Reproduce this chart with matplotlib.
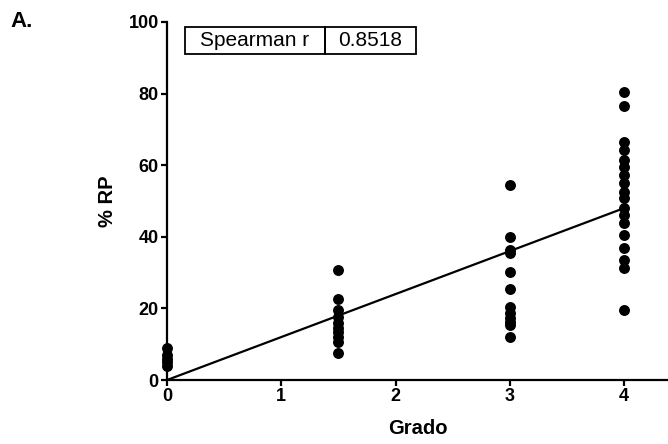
import matplotlib
matplotlib.use('Agg')
import matplotlib.pyplot as plt
from matplotlib.patches import Rectangle

plt.rcParams['font.family'] = ['Liberation Sans', 'DejaVu Sans']

# data
grado_0 = [9.0, 7.0, 6.0, 5.0, 4.0]
grado_15 = [30.7, 22.6, 19.5, 17.5, 16.0, 14.5, 13.4, 12.0, 10.6, 7.5]
grado_3 = [54.5, 40.0, 36.3, 35.5, 30.3, 25.4, 20.5, 18.7, 17.3, 16.2, 15.4, 12.1]
grado_4 = [80.5, 76.4, 66.6, 64.2, 61.5, 59.6, 57.3, 55.0, 52.6, 50.8, 48.0,
           46.0, 43.8, 40.5, 36.9, 33.5, 31.3, 19.6]
groups = {0: grado_0, 1.5: grado_15, 3: grado_3, 4: grado_4}

fit_x = [0, 4]
fit_y = [0, 48]

spearman_label = 'Spearman r'
spearman_value = '0.8518'

fig = plt.figure(figsize=(6.68, 4.44), dpi=100)
ax = fig.add_axes([0.25, 0.1441, 0.75, 0.8064])

for gx, vals in groups.items():
    ax.scatter([gx] * len(vals), vals, s=62, color='black', zorder=3,
               clip_on=False, linewidths=0)

ax.plot(fit_x, fit_y, color='black', lw=1.6, zorder=2)

ax.set_xlim(0, 4.385)
ax.set_ylim(0, 100)
ax.set_xticks([0, 1, 2, 3, 4])
ax.set_yticks([0, 20, 40, 60, 80, 100])
for s in ['top', 'right']:
    ax.spines[s].set_visible(False)
for s in ['left', 'bottom']:
    ax.spines[s].set_linewidth(1.6)
ax.tick_params(width=1.6, length=4.5, labelsize=13, pad=1.5)
for lab in ax.get_xticklabels() + ax.get_yticklabels():
    lab.set_fontweight('bold')

ax.set_xlabel('Grado', fontsize=14.5, fontweight='bold', labelpad=10)
ax.set_ylabel('% RP', fontsize=14.5, fontweight='bold', labelpad=8)

fig.text(0.015, 0.951, 'A.', fontsize=16, fontweight='bold', va='center')

# Spearman table box (pixel coordinates of figure)
W, H = 668, 444
cells = [(185, 325, spearman_label), (325, 416, spearman_value)]
for x0, x1, txt in cells:
    fig.patches.append(Rectangle((x0 / W, 1 - 54 / H), (x1 - x0) / W, 27 / H,
                                 transform=fig.transFigure, fill=False,
                                 edgecolor='black', lw=1.3))
    fig.text((x0 + x1) / 2 / W, 1 - 40.5 / H, txt, fontsize=15,
             ha='center', va='center')

fig.savefig('out.png', dpi=100, facecolor='white')
